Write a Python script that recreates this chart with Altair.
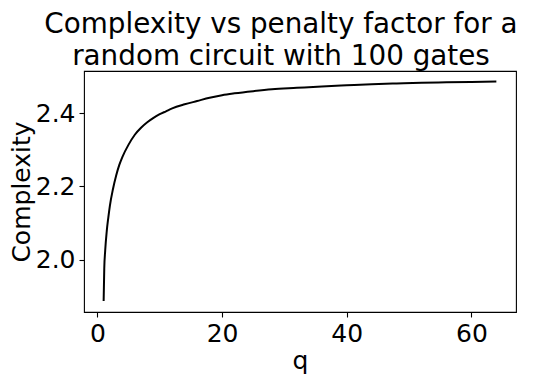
import altair as alt
import pandas as pd

q_values = [1.0, 1.1, 1.25, 1.5, 1.75, 2.0, 2.5, 3.0, 3.5, 4.0, 5.0, 6.0, 7.0, 8.0, 9.0, 10.0,
            11.0, 12.0, 14.0, 16.0, 18.0, 20.0, 22.0, 25.0, 28.0, 32.0, 36.0, 40.0, 44.0,
            48.0, 52.0, 56.0, 60.0, 64.0]
complexity = [1.887, 1.975, 2.025, 2.078, 2.115, 2.147, 2.193, 2.229, 2.258, 2.280, 2.314,
              2.341, 2.360, 2.375, 2.387, 2.397, 2.405, 2.413, 2.424, 2.433, 2.442, 2.449,
              2.454, 2.460, 2.465, 2.469, 2.473, 2.476, 2.479, 2.481, 2.483, 2.484, 2.485,
              2.486]
x_ticks = [0, 20, 40, 60]
y_ticks = [2.0, 2.2, 2.4]

df = pd.DataFrame({"q": q_values, "Complexity": complexity})

FONT = "DejaVu Sans"

chart = alt.Chart(df).mark_line(color="black", strokeWidth=2, interpolate="monotone").encode(
    x=alt.X("q:Q", scale=alt.Scale(domain=[-2.15, 67.15], nice=False, zero=False),
            axis=alt.Axis(values=x_ticks, format="d", title="q")),
    y=alt.Y("Complexity:Q", scale=alt.Scale(domain=[1.857, 2.515], nice=False, zero=False),
            axis=alt.Axis(values=y_ticks, format=".1f", title="Complexity")),
).properties(
    width=432,
    height=241,
    title=alt.TitleParams(
        text=["Complexity vs penalty factor for a\u00a0", "\u00a0\u00a0random circuit with 100 gates"],
        font=FONT, fontSize=27.8, fontWeight="normal", color="black",
        anchor="middle", dx=-19, lineHeight=32.6, offset=0,
    ),
    autosize=alt.AutoSizeParams(type="none"),
    padding={"left": 76, "top": 63, "right": 26, "bottom": 64},
).configure_view(
    stroke="black", strokeWidth=1.1
).configure_axis(
    grid=False, domain=False,
    tickColor="black", tickSize=5, tickWidth=1.1,
    labelFont=FONT, labelFontSize=25, labelColor="black", labelPadding=4,
    titleFont=FONT, titleFontSize=25, titleFontWeight="normal", titleColor="black",
).configure_axisX(titlePadding=2).configure_axisY(titlePadding=1)

chart.save("out.html", embed_options={"renderer": "svg", "actions": False})
